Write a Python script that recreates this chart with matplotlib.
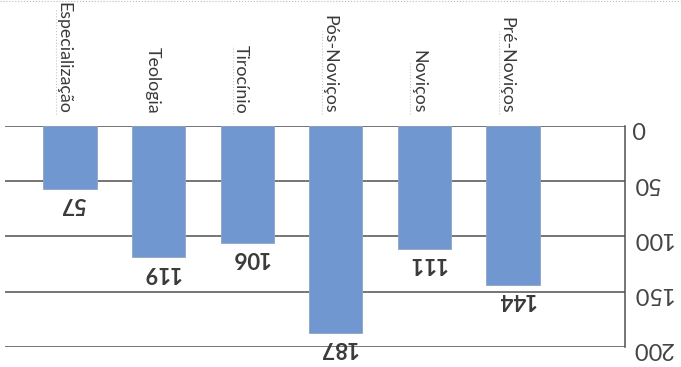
import matplotlib.pyplot as plt
from matplotlib.lines import Line2D
from matplotlib.transforms import blended_transform_factory

plt.rcParams['font.family'] = ['Lato', 'DejaVu Sans']

categorias = ['Especialização', 'Teologia', 'Tirocínio', 'Pós-Noviços', 'Noviços', 'Pré-Noviços']
valores = [57, 119, 106, 187, 111, 144]
ticks = [0, 50, 100, 150, 200]

cor_barra = '#7097d0'
cor_grade = '#505050'

fig = plt.figure(figsize=(6.81, 3.67), dpi=100)
ax = fig.add_axes([0.0073, 0.0545, 0.9105, 0.6025])

x = list(range(len(categorias)))
ax.bar(x, valores, width=0.6, color=cor_barra, edgecolor='#8fa3c4', linewidth=0.6, zorder=3)

ax.set_xlim(-0.734, 6.264)
ax.set_ylim(200, 0)

# eixo de valores à direita, com rótulos de cabeça para baixo
ax.yaxis.tick_right()
ax.set_yticks(ticks)
ax.set_yticklabels([str(t) for t in ticks])
ax.tick_params(axis='y', length=0, pad=5, labelsize=17, labelcolor='#444444', labelrotation=180)
ax.set_xticks([])
ax.grid(axis='y', color=cor_grade, linewidth=1.1, zorder=1)
for lado in ['left', 'top', 'bottom']:
    ax.spines[lado].set_visible(False)
ax.spines['right'].set_color(cor_grade)
ax.spines['right'].set_linewidth(1.1)

# valores no fim das barras
for xi, v in zip(x, valores):
    ax.annotate(str(v), (xi, v), xytext=(2, -3), textcoords='offset points',
                ha='center', va='top', rotation=180, fontsize=16, fontweight='bold',
                color='#3a3a3a', zorder=4)

# nomes das categorias acima do eixo
trans = blended_transform_factory(ax.transData, ax.transAxes)
for i, (xi, nome) in enumerate(zip(x, categorias)):
    ax.text(xi - 0.07, 1.055, nome, transform=trans, rotation=270,
            ha='center', va='bottom', fontsize=12.8, color='#3a3a3a', clip_on=False)
    if i != 1:
        ax.plot([xi - 0.16, xi - 0.16], [1.055, 1.055 + len(nome) * 0.034], transform=trans,
                color='#b9c9e2', linewidth=0.8, linestyle=':', clip_on=False)

fig.add_artist(Line2D([0, 1], [0.996, 0.996], color='#bbbbbb', linewidth=0.8, linestyle=':'))

fig.savefig('out.png', dpi=100)
